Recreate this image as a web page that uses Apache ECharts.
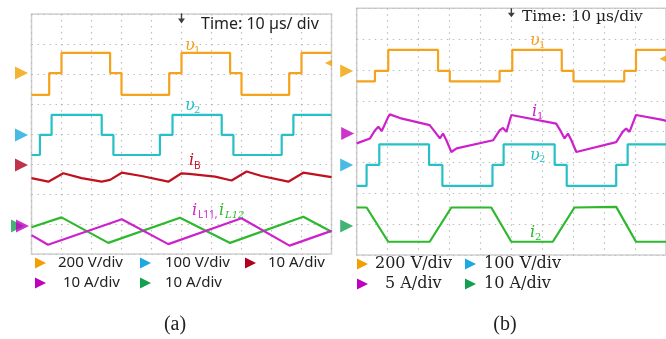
<!DOCTYPE html>
<html>
<head>
<meta charset="utf-8">
<script src="https://cdn.jsdelivr.net/npm/echarts@6/dist/echarts.min.js"></script>
<style>
  html, body { margin: 0; padding: 0; background: #fff; }
  #main { width: 666px; height: 339px; }
</style>
</head>
<body>
<div id="main"></div>
<script>
// ---- panel (a): time in us, values in V / A ----
const aV1Time = [0, 5.9, 10, 26.2, 30, 45.9, 50, 66.2, 70, 85.9, 90, 100];
const aV1 = [-145, 0, 135, 0, -145, 0, 135, 0, -145, 0, 135, 135];
const aV2Time = [0, 2.8, 6.7, 23.4, 27.3, 42.8, 47, 63.4, 67.3, 83.4, 87.3, 100];
const aV2 = [-67, 0, 67, 0, -67, 0, 67, 0, -67, 0, 67, 67];
const aIBTime = [0, 5.6, 10.6, 16.7, 23.4, 26.2, 30.1, 36.7, 45.6, 50, 52.5, 61.2, 66.7, 71.7, 76.7, 85.6, 90.6, 100];
const aIB = [-4.4, -5.6, -2.8, -4.4, -5.6, -5.0, -2.6, -3.7, -5.6, -2.8, -3.0, -3.9, -5.2, -2.2, -3.7, -5.6, -2.6, -4.1];
const aIL12Time = [0, 10, 25.6, 49.5, 66.2, 90.6, 100];
const aIL12 = [-0.4, 2.9, -5.6, 2.8, -5.6, 3.1, -1.9];
const aIL11Time = [0, 5.5, 30.1, 45.6, 70, 86, 100];
const aIL11 = [-3.0, -6.2, 2.3, -6.0, 2.6, -6.5, -1.6];
// ground level (div from bottom) and scale (unit per div)
const aGround = { v1: 6.03, v2: 3.97, iB: 2.97, iL: 0.93 };
const aScale = { v1: 200, v2: 100, iB: 10, iL: 10 };

// ---- panel (b) ----
const bV1Time = [0, 5.9, 10.2, 26.3, 30.1, 46.2, 50.3, 66.3, 70.1, 86.5, 90.3, 100];
const bV1 = [-68, 0, 137, 0, -68, 0, 137, 0, -68, 0, 137, 137];
const bI1Time = [0, 4.3, 5.9, 7.0, 8.1, 10.2, 10.7, 14.0, 23.6, 25.3, 26.9, 27.9, 29.0, 30.6, 32.3, 44.1, 46.2, 47.3, 48.4, 50.0, 50.5, 64.5, 66.1, 67.2, 68.3, 69.4, 71.0, 83.9, 86.0, 87.1, 88.2, 90.3, 98.9, 100];
const bI1 = [-1.6, -0.8, 0.5, 1.1, 0.4, 2.7, 3.1, 2.5, 1.35, 0.26, -0.8, 0, -1.1, -3.0, -2.4, -1.1, 0.5, 0.9, 0.26, 3.0, 3.2, 1.6, 0.26, -0.8, 0, -1.1, -3.0, -1.4, 0.26, 0.8, 0.26, 3.0, 2.2, 2.05];
const bV2Time = [0, 3.2, 7.3, 23.4, 27.7, 43.9, 47.5, 64.0, 67.9, 83.9, 87.6, 100];
const bV2 = [-68, 0, 67, 0, -68, 0, 67, 0, -68, 0, 67, 67];
const bI2Time = [0, 3.2, 10.2, 23.6, 30.6, 43.5, 50, 63.4, 70.4, 83.9, 90.3, 100];
const bI2 = [6, 6, -5.1, -5.1, 6, 6, -5.1, -5.1, 6, 6.2, -5.1, -5.1];
const bGround = { v1: 5.97, i1: 3.94, v2: 2.92, i2: 0.94 };
const bScale = { v1: 200, i1: 5, v2: 100, i2: 10 };

const trigLevel = [6.37, 6.36];

const C = {
  v1: '#F5A21D', v2: '#27C0C6', iB: '#C0111F', mag: '#CC22CC', grn: '#2DB82D',
  mOrange: '#F0A000', mCyan: '#1CA8E0', mRed: '#B00020', mMag: '#C000C0', mGrn: '#14A050'
};

function toDiv(times, vals, ground, scale) {
  return times.map(function (t, i) { return [t, ground + vals[i] / scale]; });
}

const chart = echarts.init(document.getElementById('main'));

const grids = [
  { left: 31.5, top: 14, width: 300, height: 240 },
  { left: 356.7, top: 8.3, width: 310, height: 246.7 }
];
const gridOpt = grids.map(function (g) {
  return Object.assign({ show: true, borderColor: '#cfcfcf', borderWidth: 1.5 }, g);
});
const dotted = { show: true, lineStyle: { color: '#bdbdbd', width: 1.2, type: [1.5, 4.5] } };
const xAxes = [0, 1].map(function (i) {
  return { gridIndex: i, type: 'value', min: 0, max: 100, interval: 10,
    axisLine: { show: false }, axisTick: { show: false }, axisLabel: { show: false }, splitLine: dotted };
});
const yAxes = [0, 1].map(function (i) {
  return { gridIndex: i, type: 'value', min: 0, max: 8, interval: 1,
    axisLine: { show: false }, axisTick: { show: false }, axisLabel: { show: false }, splitLine: dotted };
});

function trace(gi, data, color, step) {
  return { type: 'line', xAxisIndex: gi, yAxisIndex: gi, data: data, step: step || false,
    showSymbol: false, symbol: 'none', lineStyle: { color: color, width: 2.2 }, z: 3, silent: true };
}

function marker(ground, color, dx) {
  return { value: [0, ground], itemStyle: { color: color }, symbolOffset: [dx, 0] };
}

const arrowPath = 'path://M4,0 L6,0 L6,6 L10,6 L5,12 L0,6 L4,6 Z';

const series = [
  trace(0, toDiv(aV1Time, aV1, aGround.v1, aScale.v1), C.v1, 'end'),
  trace(0, toDiv(aV2Time, aV2, aGround.v2, aScale.v2), C.v2, 'end'),
  trace(0, toDiv(aIBTime, aIB, aGround.iB, aScale.iB), C.iB),
  trace(0, toDiv(aIL12Time, aIL12, aGround.iL, aScale.iL), C.grn),
  trace(0, toDiv(aIL11Time, aIL11, aGround.iL, aScale.iL), C.mag),
  trace(1, toDiv(bV1Time, bV1, bGround.v1, bScale.v1), C.v1, 'end'),
  trace(1, toDiv(bI1Time, bI1, bGround.i1, bScale.i1), C.mag),
  trace(1, toDiv(bV2Time, bV2, bGround.v2, bScale.v2), C.v2, 'end'),
  trace(1, toDiv(bI2Time, bI2, bGround.i2, bScale.i2), C.grn),
  // channel ground markers
  { type: 'scatter', xAxisIndex: 0, yAxisIndex: 0, clip: false, symbol: 'triangle', symbolSize: 13,
    symbolRotate: -90, z: 5, silent: true,
    data: [marker(aGround.v1, C.mOrange, -10), marker(aGround.v2, C.mCyan, -10), marker(aGround.iB, C.mRed, -10),
      marker(aGround.iL, C.mGrn, -14), marker(aGround.iL, C.mMag, -9)] },
  { type: 'scatter', xAxisIndex: 1, yAxisIndex: 1, clip: false, symbol: 'triangle', symbolSize: 13,
    symbolRotate: -90, z: 5, silent: true,
    data: [marker(bGround.v1, C.mOrange, -10), marker(bGround.i1, C.mMag, -9), marker(bGround.v2, C.mCyan, -10),
      marker(bGround.i2, C.mGrn, -10)] },
  // trigger position arrows
  { type: 'scatter', xAxisIndex: 0, yAxisIndex: 0, clip: false, symbol: arrowPath, symbolSize: [7, 10],
    symbolOffset: [0, 4.5], itemStyle: { color: '#111' }, data: [[50, 8]], z: 5, silent: true },
  { type: 'scatter', xAxisIndex: 1, yAxisIndex: 1, clip: false, symbol: arrowPath, symbolSize: [7, 9],
    symbolOffset: [0, 4.5], itemStyle: { color: '#111' }, data: [[50, 8]], z: 5, silent: true },
  // trigger level
  { type: 'scatter', xAxisIndex: 0, yAxisIndex: 0, clip: false, symbol: 'triangle', symbolSize: 7,
    symbolRotate: 90, symbolOffset: [-3, 0], itemStyle: { color: C.mOrange }, data: [[100, trigLevel[0]]], z: 5, silent: true },
  { type: 'scatter', xAxisIndex: 1, yAxisIndex: 1, clip: false, symbol: 'triangle', symbolSize: 7,
    symbolRotate: 90, symbolOffset: [-3, 0], itemStyle: { color: C.mOrange }, data: [[100, trigLevel[1]]], z: 5, silent: true }
];

function txt(x, y, s, font, fill, align) {
  return { type: 'text', z: 10, silent: true,
    style: { x: x, y: y, text: s, font: font, fill: fill, align: align || 'left', verticalAlign: 'middle' } };
}
function tri(x, y, color) {
  return { type: 'polygon', z: 10, silent: true,
    shape: { points: [[x, y - 5.5], [x + 11, y], [x, y + 5.5]] }, style: { fill: color } };
}

const sansA = '15px "Noto Sans"';
const serifB = '16px "DejaVu Serif"';
const mathMain = 'italic 16px "DejaVu Serif"';
const mathSub = '10px "DejaVu Serif"';
const subSans = '10px "Noto Sans"';

const graphic = [
  txt(201, 24, 'Time: 10 \u00b5s/ div', '16px "Noto Sans"', '#222'),
  txt(522, 17, 'Time: 10 \u00b5s/div', '15.5px "DejaVu Serif"', '#222'),
  // panel (a) labels
  txt(185, 46, '\u03c5', mathMain, C.v1), txt(194, 50, '1', mathSub, C.v1),
  txt(185, 106, '\u03c5', mathMain, C.v2), txt(194, 110, '2', mathSub, C.v2),
  txt(189, 161, 'i', mathMain, C.iB), txt(194, 166, 'B', subSans, C.iB),
  txt(192, 211, 'i', mathMain, C.mag), txt(198, 215, 'L11,', subSans, C.mag),
  txt(219, 211, 'i', mathMain, C.grn), txt(225, 215, 'L12', 'italic 10px "DejaVu Serif"', C.grn),
  // panel (b) labels
  txt(530, 41, '\u03c5', mathMain, C.v1), txt(539, 45, '1', mathSub, C.v1),
  txt(532, 112, 'i', mathMain, C.mag), txt(537, 116, '1', mathSub, C.mag),
  txt(530, 156, '\u03c5', mathMain, C.v2), txt(539, 159, '2', mathSub, C.v2),
  txt(530, 233, 'i', mathMain, C.grn), txt(535, 237, '2', mathSub, C.grn),
  // legend (a)
  tri(35, 263, C.mOrange), txt(58, 263, '200 V/div', sansA, '#222'),
  tri(140, 263, C.mCyan), txt(165, 263, '100 V/div', sansA, '#222'),
  tri(245, 263, C.mRed), txt(268, 263, '10 A/div', sansA, '#222'),
  tri(35, 283, C.mMag), txt(63, 283, '10 A/div', sansA, '#222'),
  tri(140, 283, C.mGrn), txt(165, 283, '10 A/div', sansA, '#222'),
  // legend (b)
  tri(357, 264, C.mOrange), txt(375, 264, '200 V/div', serifB, '#222'),
  tri(465, 264, C.mCyan), txt(484, 264, '100 V/div', serifB, '#222'),
  tri(357, 284, C.mMag), txt(385, 284, '5 A/div', serifB, '#222'),
  tri(465, 284, C.mGrn), txt(484, 284, '10 A/div', serifB, '#222'),
  // captions
  txt(175, 325, '(a)', '20px "Liberation Serif"', '#222', 'center'),
  txt(505, 325, '(b)', '20px "Liberation Serif"', '#222', 'center')
];

chart.setOption({
  animation: false,
  backgroundColor: '#fff',
  grid: gridOpt,
  xAxis: xAxes,
  yAxis: yAxes,
  series: series,
  graphic: graphic
});
</script>
</body>
</html>
